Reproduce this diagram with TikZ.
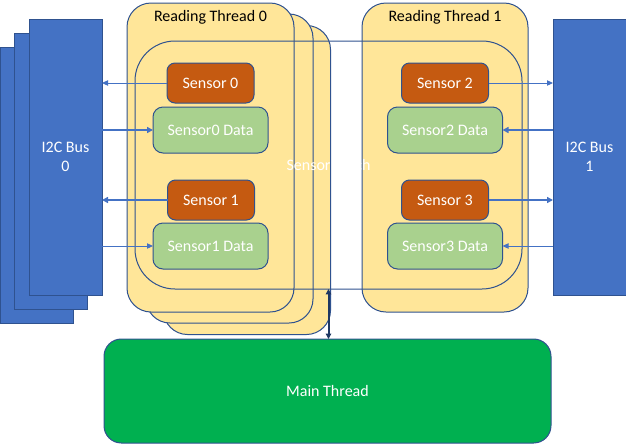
\documentclass[tikz,border=0pt]{standalone}
\usepackage{fontspec}
\setmainfont{Carlito}
\usetikzlibrary{arrows.meta}
\definecolor{rtyellow}{HTML}{FFE699}
\definecolor{sorange}{HTML}{C55A11}
\definecolor{dgreen}{HTML}{A9D18E}
\definecolor{mgreen}{HTML}{00B050}
\definecolor{busblue}{HTML}{4472C4}
\definecolor{edgeblue}{HTML}{2F528F}
\definecolor{navy}{HTML}{1F3864}
\tikzset{
  base/.style={draw=edgeblue, line width=0.75pt, inner sep=0pt, outer sep=0pt, font=\fontsize{12}{14.4}\selectfont},
  busbox/.style={base, fill=busblue, text=white, align=center, minimum width=54.75pt, minimum height=207pt},
  rtbox/.style={base, fill=rtyellow, rounded corners=18pt, minimum width=125.25pt, minimum height=231.75pt},
  batchbox/.style={base, rounded corners=30pt, text=white, minimum width=290.25pt, minimum height=186pt},
  sensorbox/.style={base, fill=sorange, text=white, rounded corners=6pt, minimum width=65.25pt, minimum height=30pt},
  databox/.style={base, fill=dgreen, text=white, rounded corners=7.5pt, minimum width=86.25pt, minimum height=34.5pt},
  mainbox/.style={base, fill=mgreen, text=white, rounded corners=13pt, minimum width=335.25pt, minimum height=78pt},
  lbl/.style={inner sep=0pt, font=\fontsize{12}{14.4}\selectfont},
  thinarrow/.style={draw=busblue, line width=0.75pt, -{Triangle[length=4.5pt,width=4pt]}},
  thickarrow/.style={draw=busblue, line width=1.5pt, -{Triangle[length=4.5pt,width=4.5pt]}},
  linkarrow/.style={draw=navy, line width=1.5pt, {Triangle[length=4pt,width=4pt]}-{Triangle[length=4pt,width=4pt]}}
}
\begin{document}
\begin{tikzpicture}[x=0.75pt, y=-0.75pt]
\useasboundingbox (0,0) rectangle (626,444);
% I2C bus 0 stack
\node[busbox] (bus0c) at (36.5,185.5) {};
\node[busbox] (bus0b) at (51,171) {};
\node[busbox] (bus0) at (65.5,157) {I2C Bus\\0};
% I2C bus 1
\node[busbox] (bus1) at (589.5,157) {I2C Bus\\1};
% Reading thread 0 stack
\node[rtbox] (rt0c) at (247,180) {};
\node[rtbox] (rt0b) at (229.5,168.5) {};
\node[rtbox] (rt0) at (210.5,157.5) {};
\node[lbl] (rt0lbl) at (210.5,17) {Reading Thread 0};
% Reading thread 1
\node[rtbox, minimum width=124.5pt] (rt1) at (445,157.5) {};
\node[lbl] (rt1lbl) at (445,17) {Reading Thread 1};
% Sensor batch
\node[batchbox] (batch) at (328.5,165) {Sensor batch};
% Sensors and data
\node[sensorbox] (s0) at (210.5,83) {Sensor 0};
\node[databox] (d0) at (210.5,130) {Sensor0 Data};
\node[sensorbox] (s1) at (211,200) {Sensor 1};
\node[databox] (d1) at (210.5,246) {Sensor1 Data};
\node[sensorbox] (s2) at (445,83) {Sensor 2};
\node[databox] (d2) at (445,130) {Sensor2 Data};
\node[sensorbox] (s3) at (445,200) {Sensor 3};
\node[databox] (d3) at (445,246) {Sensor3 Data};
% Arrows
\draw[thinarrow] (s0.west) -- (s0.west -| bus0.east);
\draw[thickarrow] (bus0.east |- d0.west) -- (d0.west);
\draw[thickarrow] (s1.west) -- (s1.west -| bus0.east);
\draw[thinarrow] (bus0.east |- d1.west) -- (d1.west);
\draw[thinarrow] (s2.east) -- (s2.east -| bus1.west);
\draw[thickarrow] (bus1.west |- d2.east) -- (d2.east);
\draw[thickarrow] (s3.east) -- (s3.east -| bus1.west);
\draw[thinarrow] (bus1.west |- d3.east) -- (d3.east);
% Main thread
\node[mainbox] (main) at (327.5,391) {Main Thread};
\draw[linkarrow] (batch.south) -- (batch.south |- main.north);
\end{tikzpicture}
\end{document}
